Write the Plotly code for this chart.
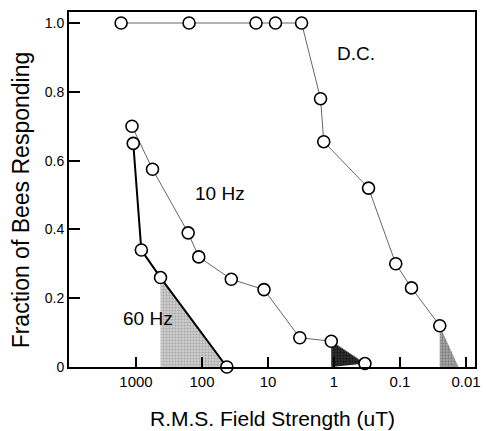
import plotly.graph_objects as go

# ---- data ----
dc_x = [1680, 157, 15.2, 7.7, 3.1, 1.6, 1.43, 0.30, 0.116, 0.067, 0.025]
dc_y = [1.0, 1.0, 1.0, 1.0, 1.0, 0.78, 0.655, 0.52, 0.30, 0.23, 0.12]

hz10_x = [1150, 562, 162, 112, 36, 11.5, 3.3, 1.1, 0.34]
hz10_y = [0.70, 0.575, 0.39, 0.32, 0.255, 0.225, 0.085, 0.075, 0.01]

hz60_x = [1100, 830, 425, 42]
hz60_y = [0.65, 0.34, 0.26, 0.0]

dc_threshold_x = [0.013]  # extrapolated zero crossing of shaded D.C. region

x_ticks = [1000, 100, 10, 1, 0.1, 0.01]
x_tick_text = ["1000", "100", "10", "1", "0.1", "0.01"]
y_ticks = [0, 0.2, 0.4, 0.6, 0.8, 1.0]
y_tick_text = ["0", "0.2", "0.4", "0.6", "0.8", "1.0"]

FONT = "Liberation Sans, Arial, Helvetica, sans-serif"

fig = go.Figure()

# shaded regions
fig.add_trace(go.Scatter(
    x=[hz60_x[2], hz60_x[2], hz60_x[3], hz60_x[2]],
    y=[hz60_y[2], 0, hz60_y[3], hz60_y[2]],
    mode="lines", line=dict(width=0), fill="toself",
    fillcolor="#c8c8c8",
    fillpattern=dict(shape=".", fgcolor="#7a7a7a", bgcolor="#d0d0d0", size=3, solidity=0.4),
    hoverinfo="skip", showlegend=False))
fig.add_trace(go.Scatter(
    x=[hz10_x[7], hz10_x[7], hz10_x[8], hz10_x[7]],
    y=[hz10_y[7], 0, hz10_y[8], hz10_y[7]],
    mode="lines", line=dict(width=0), fill="toself",
    fillcolor="#222222",
    fillpattern=dict(shape=".", fgcolor="#000000", bgcolor="#333333", size=3, solidity=0.5),
    hoverinfo="skip", showlegend=False))
fig.add_trace(go.Scatter(
    x=[dc_x[-1], dc_x[-1], dc_threshold_x[0], dc_x[-1]],
    y=[dc_y[-1], 0, 0, dc_y[-1]],
    mode="lines", line=dict(width=0), fill="toself",
    fillcolor="#a0a0a0",
    fillpattern=dict(shape=".", fgcolor="#4a4a4a", bgcolor="#aaaaaa", size=3, solidity=0.45),
    hoverinfo="skip", showlegend=False))

marker = dict(symbol="circle", size=12, color="white", line=dict(color="black", width=1.6))

fig.add_trace(go.Scatter(x=dc_x, y=dc_y, mode="lines+markers",
                         line=dict(color="#666666", width=1), marker=marker,
                         cliponaxis=False, showlegend=False))
fig.add_trace(go.Scatter(x=hz10_x, y=hz10_y, mode="lines+markers",
                         line=dict(color="#666666", width=1), marker=marker,
                         cliponaxis=False, showlegend=False))
fig.add_trace(go.Scatter(x=hz60_x, y=hz60_y, mode="lines+markers",
                         line=dict(color="black", width=2), marker=marker,
                         cliponaxis=False, showlegend=False))

annos = [
    dict(text="D.C.", x=0.706, y=0.884, size=19),
    dict(text="10 Hz", x=0.371, y=0.490, size=19),
    dict(text="60 Hz", x=0.195, y=0.138, size=19),
]
for a in annos:
    fig.add_annotation(text=a["text"], x=a["x"], y=a["y"], xref="paper", yref="paper",
                       showarrow=False, xanchor="center", yanchor="middle",
                       font=dict(family=FONT, size=a["size"], color="black"))

fig.add_annotation(text="R.M.S. Field Strength (uT)", x=0.5, y=-0.1437,
                   xref="paper", yref="paper", showarrow=False,
                   xanchor="center", yanchor="middle",
                   font=dict(family=FONT, size=21, color="black"))
fig.add_annotation(text="Fraction of Bees Responding", x=-0.1177, y=0.470,
                   xref="paper", yref="paper", showarrow=False, textangle=-90,
                   xanchor="center", yanchor="middle",
                   font=dict(family=FONT, size=23, color="black"))

fig.update_layout(
    width=486, height=431, autosize=False,
    margin=dict(l=69, r=5, t=12, b=64),
    paper_bgcolor="white", plot_bgcolor="white",
    font=dict(family=FONT, color="black"),
    xaxis=dict(type="log", range=[4.015, -2.136], tickvals=x_ticks, ticktext=x_tick_text,
               ticks="inside", ticklen=10, tickwidth=2, tickcolor="black",
               showline=True, linewidth=2, linecolor="black", mirror=True,
               showgrid=False, zeroline=False, tickfont=dict(size=15, family=FONT)),
    yaxis=dict(range=[0, 1.032], tickvals=y_ticks, ticktext=y_tick_text,
               ticks="inside", ticklen=11, tickwidth=2, tickcolor="black",
               showline=True, linewidth=2, linecolor="black", mirror=True,
               showgrid=False, zeroline=False, tickfont=dict(size=14, family=FONT)),
)

fig.write_html("out.html",
               config={"displayModeBar": False, "responsive": False},
               post_script=("document.documentElement.style.overflow='hidden';"
                            "document.body.style.overflow='hidden';"
                            "document.body.style.margin='0';document.body.style.padding='0';"))
